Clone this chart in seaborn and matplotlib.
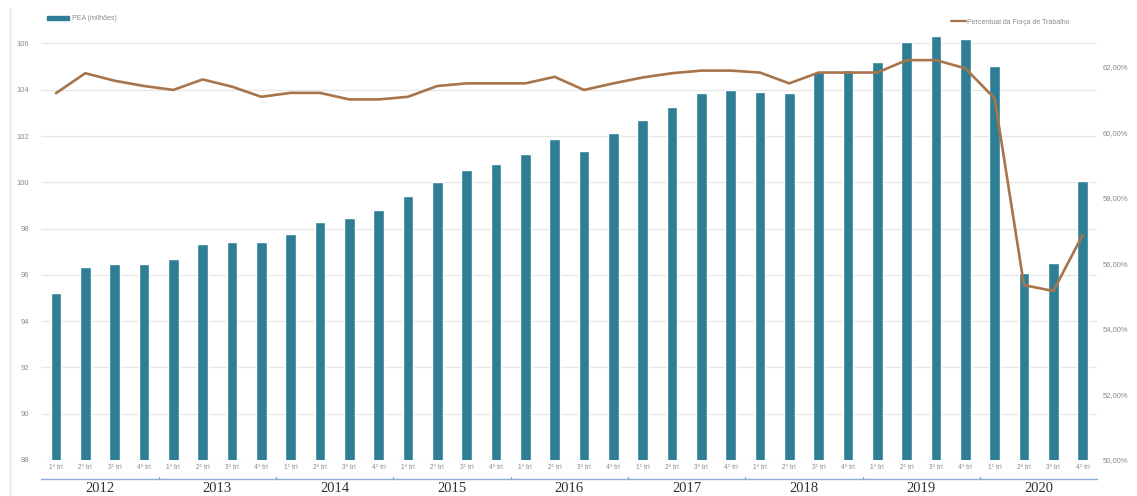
import numpy as np
import pandas as pd
import matplotlib
matplotlib.use("Agg")
import matplotlib.pyplot as plt
from matplotlib.lines import Line2D
from matplotlib.patches import Patch
import seaborn as sns

# Série trimestral 2012–2020
anos = [2012, 2013, 2014, 2015, 2016, 2017, 2018, 2019, 2020]
trimestres = ["1º tri", "2º tri", "3º tri", "4º tri"]

pea_milhoes = [
    95.20, 96.35, 96.46, 96.46,
    96.69, 97.32, 97.43, 97.40,
    97.75, 98.30, 98.44, 98.80,
    99.41, 100.03, 100.53, 100.79,
    101.21, 101.87, 101.37, 102.14,
    102.68, 103.27, 103.85, 103.99,
    103.89, 103.85, 104.75, 104.85,
    105.21, 106.08, 106.32, 106.18,
    105.04, 96.09, 96.53, 100.07,
]

perc_forca_trabalho = [
    61.20, 61.81, 61.58, 61.42,
    61.30, 61.62, 61.40, 61.09,
    61.21, 61.21, 61.01, 61.01,
    61.09, 61.42, 61.50, 61.50,
    61.50, 61.70, 61.30, 61.50,
    61.68, 61.81, 61.89, 61.89,
    61.83, 61.50, 61.83, 61.83,
    61.83, 62.21, 62.21, 61.96,
    61.04, 55.34, 55.16, 56.87,
]

left_ticks = [88, 90, 92, 94, 96, 98, 100, 102, 104, 106]
right_ticks = [50, 52, 54, 56, 58, 60, 62]

periodos = [f"{a} {t}" for a in anos for t in trimestres]
rotulos_tri = [t for a in anos for t in trimestres]
df = pd.DataFrame({"periodo": periodos, "pea": pea_milhoes,
                   "perc": perc_forca_trabalho, "pos": np.arange(len(periodos))})

teal = "#2E7F96"
brown = "#A8744A"
grey_txt = "#8a8a8a"

sns.set_style("white")
plt.rcParams["font.family"] = ["Liberation Sans", "DejaVu Sans"]

W, H = 1137, 496
fig = plt.figure(figsize=(W / 100, H / 100), dpi=100)
x0, x1 = 41.3, 1097.3
y_top, y_bot = 30, 460
ax = fig.add_axes([x0 / W, (H - y_bot) / H, (x1 - x0) / W, (y_bot - y_top) / H])

sns.barplot(data=df, x="periodo", y="pea", color=teal, saturation=1,
            width=0.36, ax=ax, zorder=2)
ax.set_xlim(-0.5, len(periodos) - 0.5)
ax.set_ylim(88, 88 + (y_bot - y_top) / 23.14)
ax.set_yticks(left_ticks)
ax.set_yticklabels([str(v) for v in left_ticks], fontsize=5.5, color=grey_txt)
ax.yaxis.grid(True, color="#e6e6e6", lw=0.9, zorder=0)
ax.set_axisbelow(True)
ax.set_xticks(range(len(periodos)))
ax.set_xticklabels(rotulos_tri, fontsize=4.8, color=grey_txt)
ax.tick_params(axis="both", length=0)
ax.tick_params(axis="y", pad=9)
ax.tick_params(axis="x", pad=3)
ax.set_xlabel("")
ax.set_ylabel("")
for s in ax.spines.values():
    s.set_visible(False)

ax2 = ax.twinx()
sns.lineplot(data=df, x="pos", y="perc", ax=ax2, color=brown, lw=1.9, zorder=3)
ax2.set_ylim(50, 50 + (y_bot - y_top) / 32.75)
ax2.set_yticks(right_ticks)
ax2.set_yticklabels([f"{v:.2f}".replace(".", ",") + "%" for v in right_ticks],
                    fontsize=5.5, color=grey_txt)
ax2.tick_params(axis="y", length=0, pad=4)
ax2.set_ylabel("")
ax2.set_xlabel("")
for s in ax2.spines.values():
    s.set_visible(False)

# Eixo de anos: linha azul com divisões e rótulos
sep_y = (H - 479) / H
fig.add_artist(Line2D([x0 / W, x1 / W], [sep_y, sep_y], color="#8DA9D6", lw=1.0))
slot = (x1 - x0) / len(periodos)
for i, ano in enumerate(anos):
    bx = x0 + i * 4 * slot
    if i > 0:
        fig.add_artist(Line2D([bx / W, bx / W], [sep_y, sep_y + 2 / H],
                              color="#8DA9D6", lw=1.0))
    cx = x0 + (i * 4 + 2) * slot
    fig.text(cx / W, (H - 488) / H, str(ano), ha="center", va="center",
             fontsize=10.5, color="#333333", family=["Liberation Serif", "DejaVu Serif"])

# Borda esquerda do quadro
fig.add_artist(Line2D([10 / W, 10 / W], [0, (H - 8) / H], color="#e2e2e2", lw=1.0))

# Legendas
leg1 = fig.legend(handles=[Patch(color=teal, label="PEA (milhões)")],
                  loc="center left", bbox_to_anchor=(44 / W, (H - 19) / H),
                  frameon=False, fontsize=5, handlelength=3.2, handleheight=0.5,
                  borderaxespad=0, handletextpad=0.4)
for t in leg1.get_texts():
    t.set_color(grey_txt)
leg2 = fig.legend(handles=[Line2D([], [], color=brown, lw=1.6,
                                  label="Percentual da Força de Trabalho")],
                  loc="center left", bbox_to_anchor=(948 / W, (H - 22) / H),
                  frameon=False, fontsize=5, handlelength=2.2,
                  borderaxespad=0, handletextpad=0.2)
for t in leg2.get_texts():
    t.set_color(grey_txt)

fig.savefig("out.png", dpi=100, facecolor="white")
